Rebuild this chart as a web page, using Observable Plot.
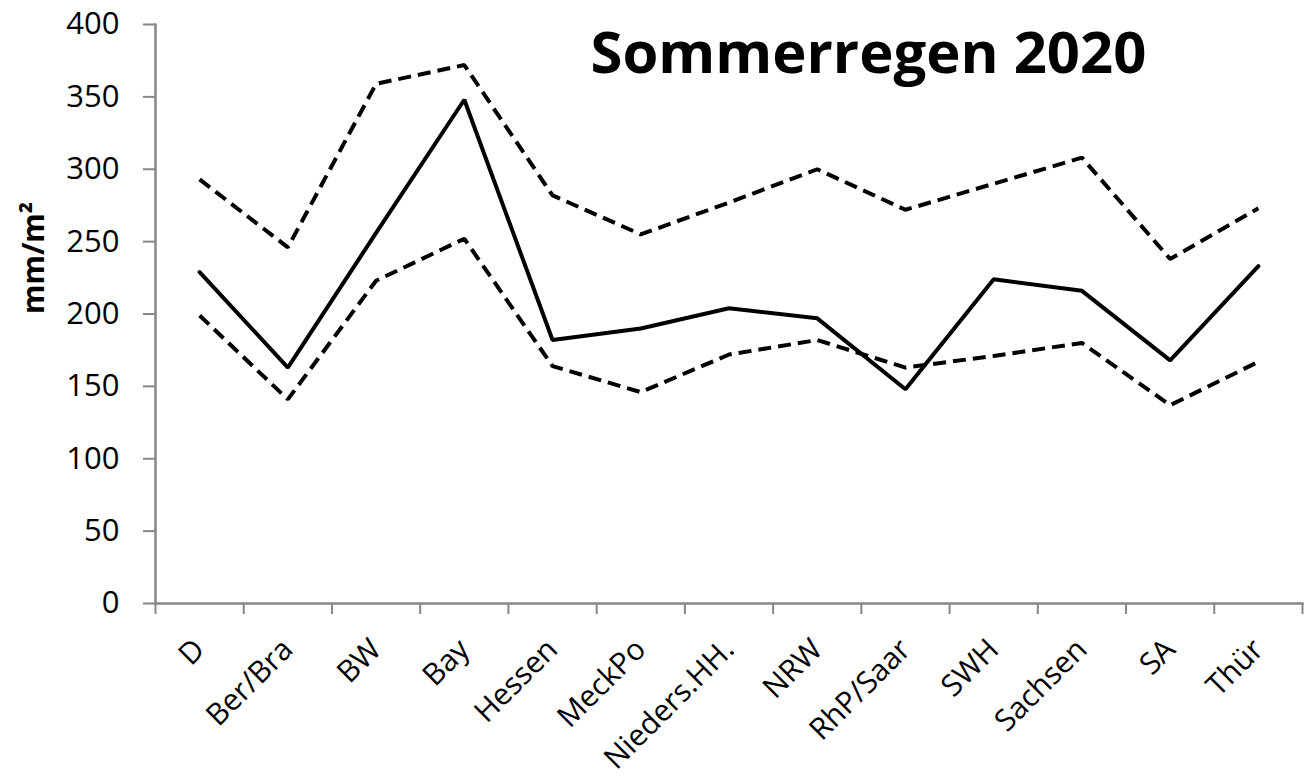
<!DOCTYPE html>
<html>
<head>
<meta charset="utf-8">
<script src="https://cdn.jsdelivr.net/npm/d3@7"></script>
<script src="https://cdn.jsdelivr.net/npm/@observablehq/plot@0.6"></script>
<style>
  html, body { margin: 0; padding: 0; background: #fff; }
  #chart svg { display: block; }
</style>
</head>
<body>
<div id="chart"></div>
<script>
const categories = ["D", "Ber/Bra", "BW", "Bay", "Hessen", "MeckPo", "Nieders.HH.", "NRW", "RhP/Saar", "SWH", "Sachsen", "SA", "Thür"];
const upperValues = [293, 246, 359, 372, 282, 255, 277, 300, 272, 290, 308, 238, 273];
const meanValues  = [229, 163, 256, 348, 182, 190, 204, 197, 148, 224, 216, 168, 233];
const lowerValues = [199, 141, 223, 252, 164, 146, 172, 182, 163, 171, 180, 137, 167];
const yTicks = [0, 50, 100, 150, 200, 250, 300, 350, 400];
const titleText = "Sommerregen 2020";
const yLabel = "mm/m²";

const idx = categories.map((_, i) => i);
const boundaries = [...idx.map(i => i - 0.5), categories.length - 0.5];
const axisColor = "#868686";

const chart = Plot.plot({
  width: 1306,
  height: 783,
  marginLeft: 155,
  marginRight: 4,
  marginTop: 24,
  marginBottom: 180,
  style: { fontFamily: "'Open Sans', sans-serif", fontSize: "30px", color: "#000", background: "#fff", overflow: "visible" },
  x: { type: "linear", domain: [-0.5, categories.length - 0.5] },
  y: { domain: [0, 400] },
  marks: [
    Plot.frame({ anchor: "left", stroke: axisColor, strokeWidth: 2.5 }),
    Plot.frame({ anchor: "bottom", stroke: axisColor, strokeWidth: 2.5 }),
    Plot.axisY({ ticks: yTicks, tickSize: 12, tickPadding: 24, stroke: axisColor, strokeWidth: 2, fill: "#000", label: null, fontSize: 31 }),
    Plot.axisX({ ticks: boundaries, tickSize: 11, tickFormat: () => "", stroke: axisColor, strokeWidth: 2, label: null }),
    Plot.axisX({ ticks: idx, tickSize: 0, tickPadding: 41, tickRotate: -45, tickFormat: i => categories[i], fill: "#000", label: null, fontSize: 30 }),
    Plot.lineY(upperValues, { x: (d, i) => i, y: d => d, stroke: "#000", strokeWidth: 4, strokeDasharray: "13,7", strokeLinecap: "butt", strokeLinejoin: "miter" }),
    Plot.lineY(lowerValues, { x: (d, i) => i, y: d => d, stroke: "#000", strokeWidth: 4, strokeDasharray: "13,7", strokeLinecap: "butt", strokeLinejoin: "miter" }),
    Plot.lineY(meanValues, { x: (d, i) => i, y: d => d, stroke: "#000", strokeWidth: 4, strokeLinejoin: "miter" }),
    Plot.text([titleText], { text: d => d, frameAnchor: "top-left", dx: 435, dy: 7, textAnchor: "start", lineAnchor: "top", fontSize: 58, fontWeight: "bold", fill: "#000" }),
    Plot.text([yLabel], { text: d => d, frameAnchor: "left", dx: -121, rotate: -90, fontSize: 30, fontWeight: "bold", fill: "#000" })
  ]
});
document.getElementById("chart").appendChild(chart);
</script>
</body>
</html>
